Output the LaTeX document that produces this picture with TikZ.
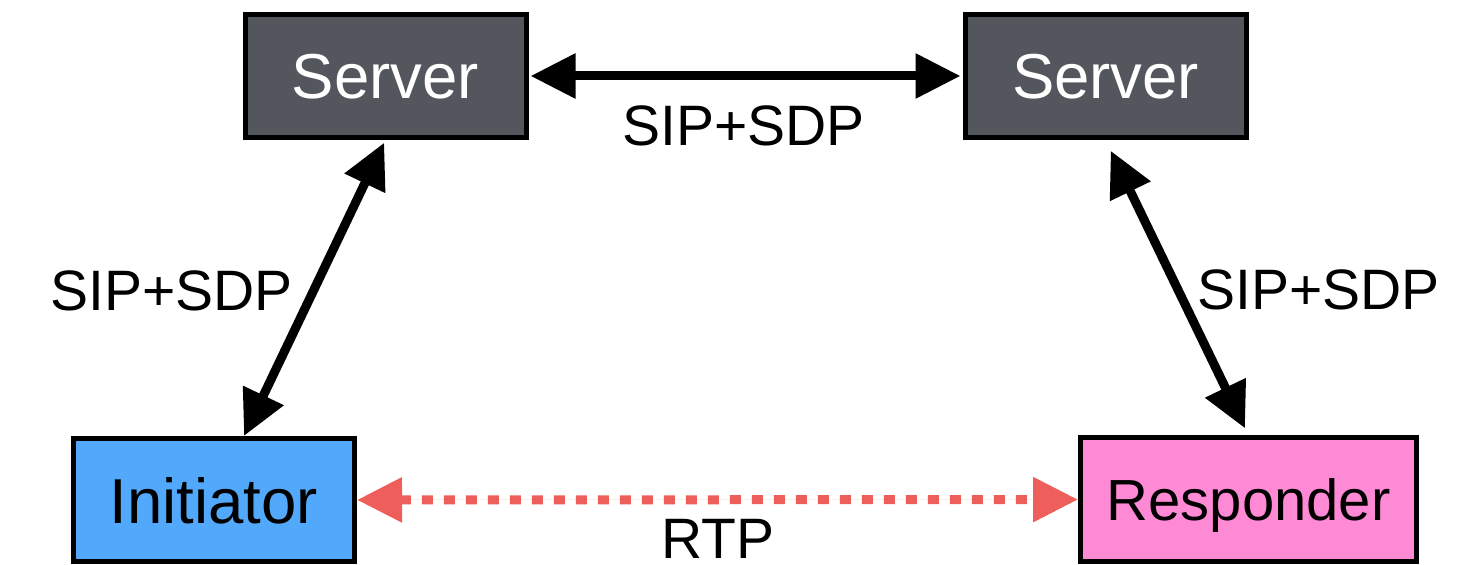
\documentclass[tikz,border=0pt]{standalone}
\usepackage{fontspec}
\setmainfont{Liberation Sans}
\usetikzlibrary{arrows.meta,positioning}
\definecolor{srvgray}{HTML}{53565C}
\definecolor{initblue}{HTML}{52A8FA}
\definecolor{resppink}{HTML}{FE8AD6}
\definecolor{rtpred}{HTML}{EE5E5A}

\begin{document}
\begin{tikzpicture}[
    x=0.5pt, y=-0.5pt,
    box/.style={draw, line width=2.5pt, minimum width=140.5pt, minimum height=61.5pt, inner sep=0pt, text depth=0pt, font=\fontsize{31.75}{38}\selectfont},
    srvbox/.style={box, fill=srvgray, text=white},
    lbl/.style={inner sep=0pt, font=\fontsize{28.5}{34}\selectfont},
    arrow/.style={{Triangle[length=22.5pt,width=21.5pt]}-{Triangle[length=22.5pt,width=21.5pt]}, line width=4.5pt},
    rtparrow/.style={arrow, draw=rtpred, fill=rtpred, dash pattern=on 5.5pt off 5.5pt},
    node distance=217pt
]
\useasboundingbox (0,0) rectangle (1470,565);

\node[srvbox] (srvL) at (385.5,76) {Server};
\node[srvbox, right=of srvL] (srvR) {Server};
\node[box, fill=initblue] (init) at (214,500) {Initiator};
\node[box, fill=resppink, minimum width=168pt, font=\fontsize{29}{35}\selectfont] (resp) at (1248.5,499.5) {Responder};

\draw[arrow, shorten <=1pt, shorten >=1pt] (srvL) -- (srvR);
\draw[arrow, shorten <=1.5pt] (srvL.south) -- ([xshift=15pt]init.north);
\draw[arrow, shorten <=6pt, shorten >=4pt] (srvR.south) -- (resp.north);
\draw[rtparrow] (init) -- (resp);

\node[lbl] (lblTop) at (743.5,126) {SIP+SDP};
\node[lbl] (lblLeft) at (171.5,291) {SIP+SDP};
\node[lbl] (lblRight) at (1318.5,290) {SIP+SDP};
\node[lbl] (lblRtp) at (718,539) {RTP};

\end{tikzpicture}
\end{document}
